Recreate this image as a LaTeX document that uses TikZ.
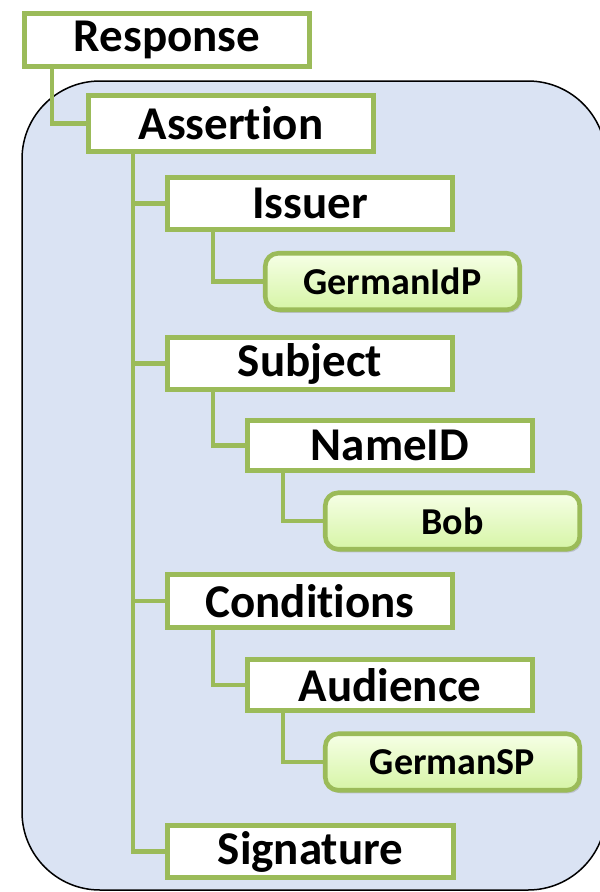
\documentclass[tikz,border=0pt]{standalone}
\usepackage{fontspec}
\setmainfont{Carlito}[Ligatures=NoCommon]
\usetikzlibrary{shadows}
\pgfdeclarelayer{back}
\pgfdeclarelayer{wires}
\pgfsetlayers{back,wires,main}
\definecolor{grn}{HTML}{9BBB59}
\definecolor{bg}{HTML}{DAE3F3}
\definecolor{leaftop}{HTML}{F6FFE6}
\definecolor{leafbot}{HTML}{D6F5A6}
\tikzset{
  elem/.style={draw=grn, line width=4.6pt, fill=white, inner sep=0pt,
    minimum width=285.5pt, minimum height=52.5pt,
    font=\fontsize{47}{47}\selectfont\bfseries},
  leaf/.style={draw=grn, line width=4.6pt, rounded corners=13pt, inner sep=0pt,
    top color=leaftop, bottom color=leafbot,
    minimum width=254.5pt, minimum height=56.5pt,
    drop shadow={shadow xshift=2pt, shadow yshift=-3pt, opacity=0.35},
    font=\fontsize{38}{38}\selectfont\bfseries},
  conn/.style={draw=grn, line width=4.6pt},
}
\begin{document}
\begin{tikzpicture}[x=1pt,y=-1pt]
\useasboundingbox (0,0) rectangle (600,892);
\begin{pgfonlayer}{back}
\draw[fill=bg, line width=1.5pt, rounded corners=78pt] (22,81) rectangle (606,890);
\end{pgfonlayer}
\node[elem] (resp) at (167,40) {Response};
\node[elem, minimum height=56.5pt] (asrt) at (231,123.5) {Assertion};
\node[elem] (issuer) at (310,203.5) {Issuer};
\node[leaf] (idp) at (392.5,281.5) {GermanIdP};
\node[elem] (subj) at (310,363.5) {Subject};
\node[elem, minimum height=50.5pt] (nameid) at (390,445.5) {NameID};
\node[leaf] (bob) at (452.5,521) {Bob};
\node[elem, minimum height=53.5pt] (cond) at (310,601) {Conditions};
\node[elem, minimum height=51.5pt] (aud) at (390,685) {Audience};
\node[leaf] (sp) at (452.5,762) {GermanSP};
\node[elem, minimum width=286.5pt] (sig) at (310.5,851.5) {Signature};
\begin{pgfonlayer}{wires}
\draw[conn] ([xshift=30pt]resp.south west) |- (asrt.west);
\draw[conn] ([xshift=47pt]asrt.south west) |- (issuer.west);
\draw[conn] ([xshift=47pt]asrt.south west) |- (subj.west);
\draw[conn] ([xshift=47pt]asrt.south west) |- (cond.west);
\draw[conn] ([xshift=47pt]asrt.south west) |- (sig.west);
\draw[conn] ([xshift=48pt]issuer.south west) |- (idp.west);
\draw[conn] ([xshift=48pt]subj.south west) |- (nameid.west);
\draw[conn] ([xshift=38pt]nameid.south west) |- (bob.west);
\draw[conn] ([xshift=48pt]cond.south west) |- (aud.west);
\draw[conn] ([xshift=38pt]aud.south west) |- (sp.west);
\end{pgfonlayer}
\end{tikzpicture}
\end{document}
